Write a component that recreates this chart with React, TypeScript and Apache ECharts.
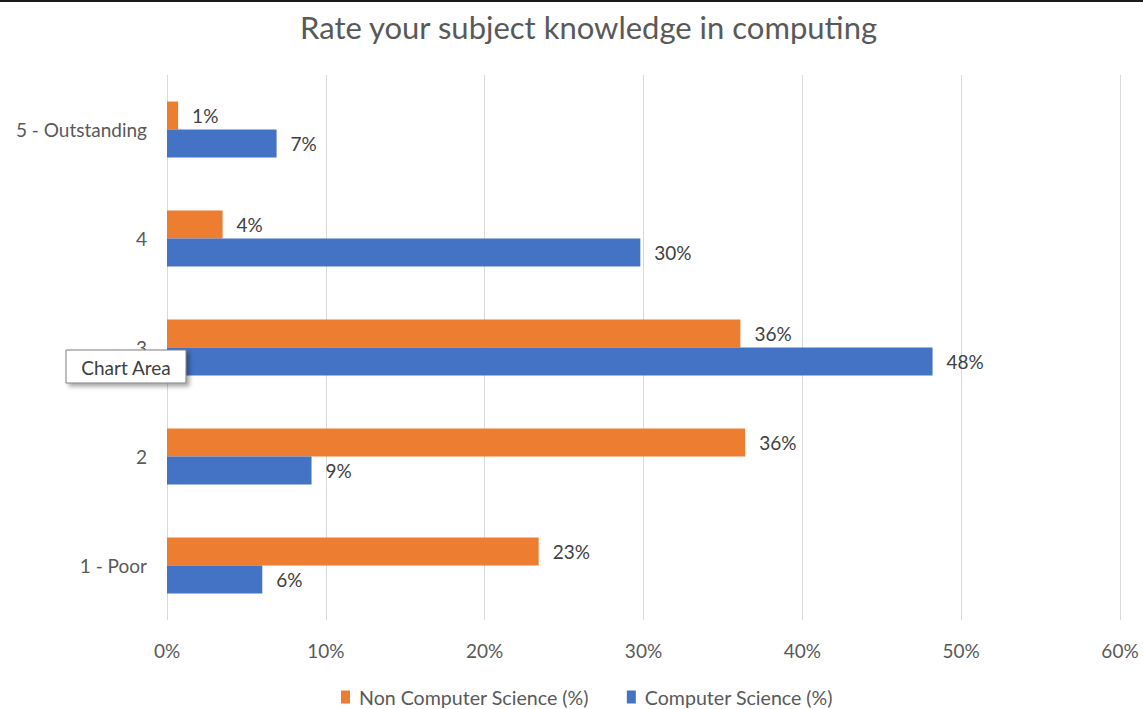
import React, { useEffect, useRef } from "react";
import * as echarts from "echarts";

const categories = ["1 - Poor", "2", "3", "4", "5 - Outstanding"];
const nonCsValues = [23.4, 36.4, 36.1, 3.5, 0.7];
const csValues = [6.0, 9.1, 48.2, 29.8, 6.9];
const seriesNames = ["Non Computer Science (%)", "Computer Science (%)"];
const xTicks = [0, 10, 20, 30, 40, 50, 60];

const FONT = "Lato, 'Open Sans', sans-serif";

export default function App() {
  const ref = useRef<HTMLDivElement>(null);
  useEffect(() => {
    if (!ref.current) return;
    const chart = echarts.init(ref.current, undefined, { renderer: "svg" });
    const label = {
      show: true,
      position: "right",
      distance: 14,
      color: "#404040",
      fontSize: 19,
      fontFamily: FONT,
      formatter: (p: any) => Math.round(p.value) + "%",
    };
    chart.setOption({
      animation: false,
      backgroundColor: "#ffffff",
      title: {
        text: "Rate your subject knowledge in computing",
        left: 295,
        top: 6,
        textStyle: { color: "#595959", fontSize: 31, fontWeight: "normal", fontFamily: FONT },
      },
      grid: { left: 167, right: 23, top: 75, bottom: 89, containLabel: false },
      legend: {
        data: [seriesNames[0], seriesNames[1]],
        top: 682,
        left: 336,
        itemWidth: 9,
        itemHeight: 13,
        itemGap: 38,
        icon: "rect",
        textStyle: { color: "#595959", fontSize: 19.6, fontFamily: FONT, padding: [0, 0, 0, 4] },
      },
      xAxis: {
        type: "value",
        min: xTicks[0],
        max: xTicks[xTicks.length - 1],
        interval: 10,
        axisLine: { show: false },
        axisTick: { show: false },
        splitLine: { lineStyle: { color: "#d9d9d9", width: 1 } },
        axisLabel: {
          color: "#595959",
          fontSize: 19,
          fontFamily: FONT,
          margin: 21,
          formatter: (v: number) => v + "%",
        },
      },
      yAxis: {
        type: "category",
        data: categories,
        axisLine: { show: false },
        axisTick: { show: false },
        axisLabel: { color: "#595959", fontSize: 19, fontFamily: FONT, margin: 20 },
      },
      series: [
        {
          name: seriesNames[0],
          type: "bar",
          data: nonCsValues,
          barWidth: 28,
          barGap: "0%",
          itemStyle: { color: "#ED7D31" },
          label,
        },
        {
          name: seriesNames[1],
          type: "bar",
          data: csValues,
          barWidth: 28,
          barGap: "0%",
          itemStyle: { color: "#4472C4" },
          label,
        },
      ],
      graphic: [
        {
          type: "line",
          shape: { x1: 0, y1: 1, x2: 1143, y2: 1 },
          style: { stroke: "#1a1a1a", lineWidth: 2 },
          z: 100,
        },
        {
          type: "rect",
          shape: { x: 66, y: 350, width: 120, height: 33 },
          style: {
            fill: "#ffffff",
            stroke: "#7f7f7f",
            lineWidth: 1,
            shadowBlur: 4,
            shadowOffsetX: 3,
            shadowOffsetY: 3,
            shadowColor: "rgba(0,0,0,0.35)",
          },
          z: 100,
        },
        {
          type: "text",
          x: 126,
          y: 367,
          style: {
            text: "Chart Area",
            fill: "#404040",
            font: "19px " + FONT,
            align: "center",
            verticalAlign: "middle",
          },
          z: 101,
        },
      ],
    });
    return () => chart.dispose();
  }, []);
  return (
    <div
      ref={ref}
      style={{ position: "fixed", left: 0, top: 0, width: 1143, height: 709 }}
    />
  );
}
